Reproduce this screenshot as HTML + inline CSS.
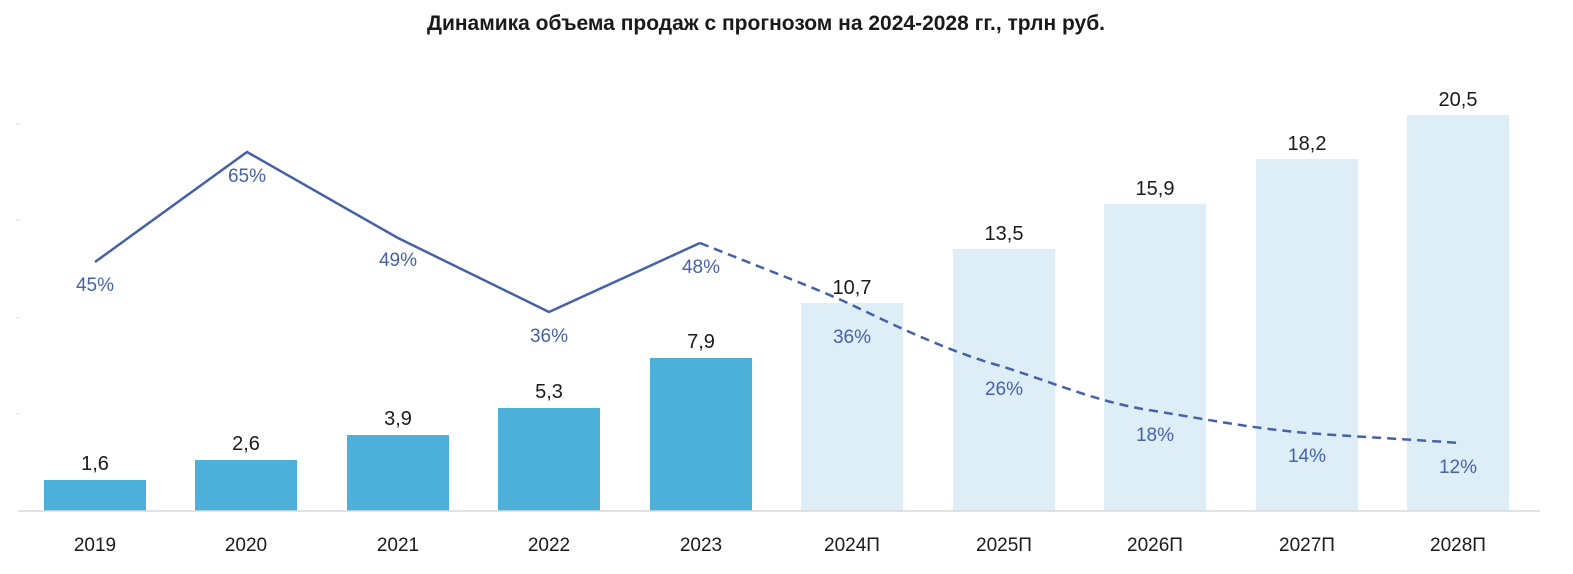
<!DOCTYPE html>
<html><head><meta charset="utf-8"><style>
body{margin:0;background:#fff;}
svg{display:block;font-family:"Liberation Sans","DejaVu Sans",sans-serif;}
</style></head><body>
<svg width="1573" height="574" viewBox="0 0 1573 574">
<text x="766" y="30" text-anchor="middle" font-size="21" font-weight="bold" fill="#1a1a1a">Динамика объема продаж с прогнозом на 2024-2028 гг., трлн руб.</text>
<g stroke="#ddd" stroke-width="1">
<line x1="16" y1="124" x2="20" y2="124"/><line x1="16" y1="220" x2="20" y2="220"/><line x1="16" y1="318" x2="20" y2="318"/><line x1="16" y1="414" x2="20" y2="414"/>
</g>
<g fill="#4DB0D8">
<rect x="44" y="480" width="102" height="31"/>
<rect x="195" y="460" width="102" height="51"/>
<rect x="347" y="435" width="102" height="76"/>
<rect x="498" y="408" width="102" height="103"/>
<rect x="650" y="358" width="102" height="153"/>
</g>
<g fill="#DDEEF6">
<rect x="801" y="303" width="102" height="208"/>
<rect x="953" y="249" width="102" height="262"/>
<rect x="1104" y="204" width="102" height="307"/>
<rect x="1256" y="159" width="102" height="352"/>
<rect x="1407" y="115" width="102" height="396"/>
</g>
<line x1="18" y1="511" x2="1540" y2="511" stroke="#d9d9d9" stroke-width="1.5"/>
<g font-size="20" fill="#1a1a1a" text-anchor="middle">
<text x="95" y="470">1,6</text><text x="246" y="450">2,6</text><text x="398" y="425">3,9</text><text x="549" y="398">5,3</text><text x="701" y="348">7,9</text>
<text x="852" y="294">10,7</text><text x="1004" y="240">13,5</text><text x="1155" y="195">15,9</text><text x="1307" y="150">18,2</text><text x="1458" y="106">20,5</text>
</g>
<g font-size="19" fill="#1a1a1a" text-anchor="middle">
<text x="95" y="551">2019</text><text x="246" y="551">2020</text><text x="398" y="551">2021</text><text x="549" y="551">2022</text><text x="701" y="551">2023</text>
<text x="852" y="551">2024П</text><text x="1004" y="551">2025П</text><text x="1155" y="551">2026П</text><text x="1307" y="551">2027П</text><text x="1458" y="551">2028П</text>
</g>
<polyline points="95,262 247,152 398,238 549,312 700,243" fill="none" stroke="#4661A9" stroke-width="2.5"/>
<path d="M700,243 C780,275 820,290 852,305 C900,328 950,352 1004,367 C1060,385 1100,403 1155,411 C1210,420 1250,428 1307,433 C1360,437 1420,440 1460,443" fill="none" stroke="#4661A9" stroke-width="2.5" stroke-dasharray="9,6"/>
<g font-size="19" fill="#4661A9" text-anchor="middle">
<text x="95" y="291">45%</text><text x="247" y="182">65%</text><text x="398" y="266">49%</text><text x="549" y="342">36%</text><text x="701" y="273">48%</text>
<text x="852" y="343">36%</text><text x="1004" y="395">26%</text><text x="1155" y="441">18%</text><text x="1307" y="462">14%</text><text x="1458" y="473">12%</text>
</g>
</svg>
</body></html>
